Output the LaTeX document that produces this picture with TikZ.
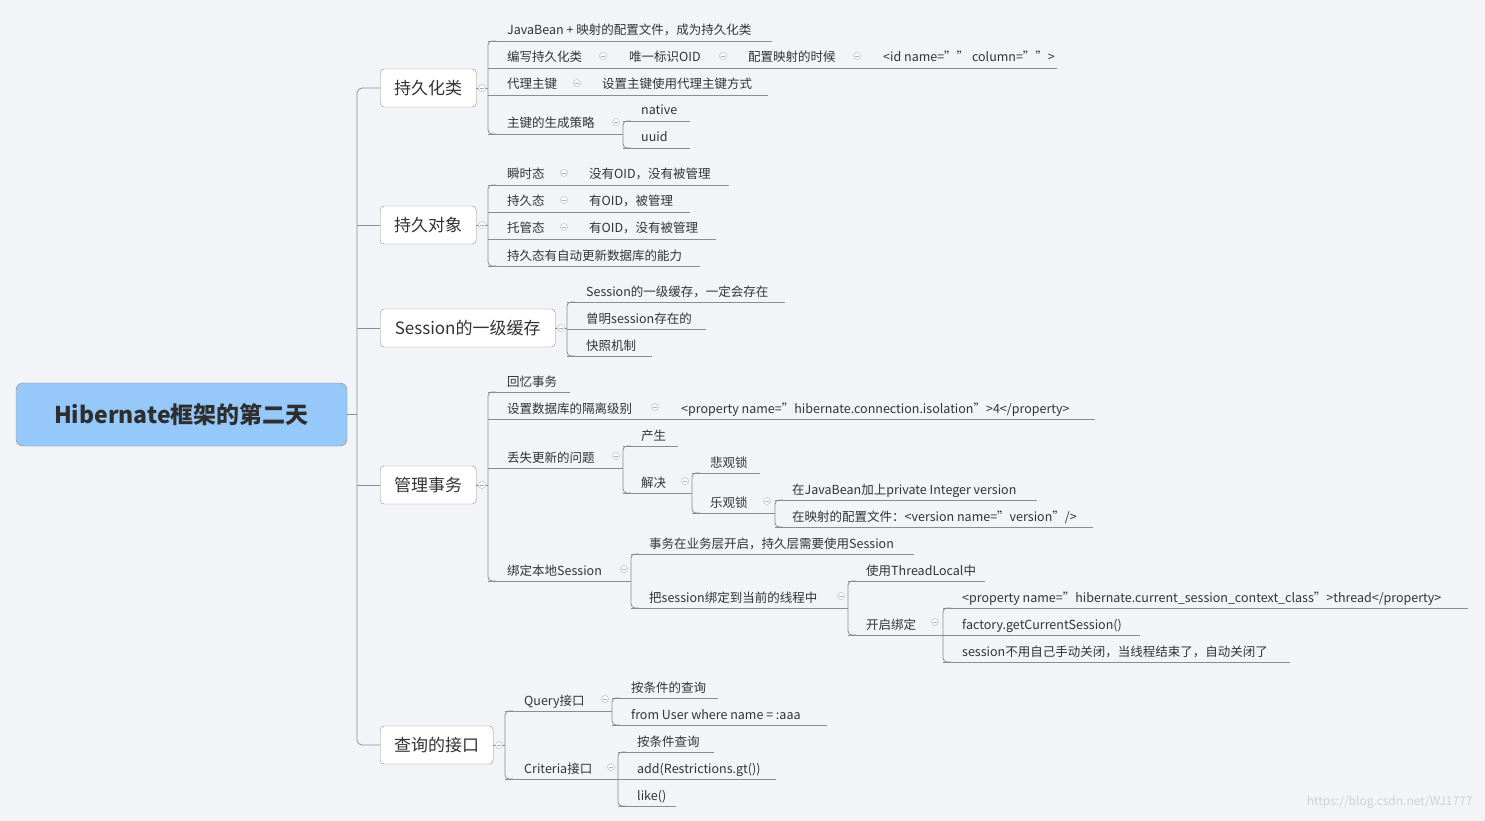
\documentclass[tikz,border=0pt]{standalone}
\usepackage{fontspec}
\setmainfont{Noto Sans CJK SC}
\definecolor{bgcol}{HTML}{F3F4F8}
\definecolor{rootcol}{HTML}{96C9FA}
\definecolor{txtcol}{HTML}{333333}
\definecolor{linecol}{HTML}{8C8C8C}
% leaf: name, line start, text x, line y, line end, text
\newcommand\leaf[6]{%
  \node[leaftext] (#1) at (#3,#4-6) {#6};
  \draw[branch] (#2,#4) -- (#5,#4);}
% vbar: x, top y, bottom y
\newcommand\vbar[3]{\draw[branch, rounded corners=4] (#1+8,#2) -- (#1,#2) -- (#1,#3) -- (#1+8,#3);}
\newcommand\fold[2]{\node[foldmark] at (#1,#2) {};\draw[linecol!70, line width=.5pt] (#1-2,#2) -- (#1+2,#2);}
\begin{document}
\begin{tikzpicture}
      [x=1pt, y=-1pt,
        branch/.style={draw=linecol, line width=.8pt},
        leaftext/.style={anchor=base west, inner sep=0pt, text=txtcol, font=\fontsize{12.5}{14}\selectfont},
        topic/.style={draw=linecol, rounded corners=4pt, fill=white, text=txtcol,
          font=\fontsize{17}{20}\selectfont, anchor=west, minimum height=38pt, inner xsep=12pt},
        foldmark/.style={circle, draw=linecol!60, fill=white, line width=.5pt, minimum size=7pt, inner sep=0pt}
      ]
      \fill[bgcol] (0,0) rectangle (1485,821);
      \useasboundingbox (0,0) rectangle (1485,821);
      % root and main topics
      \draw[branch, rounded corners=5] (380,88) -- (357,88) -- (357,745) -- (380,745);
      \foreach \yy in {225,328,485} {\draw[branch] (357,\yy) -- (380,\yy);}
      \node[draw=linecol, fill=rootcol, rounded corners=7pt, minimum width=331pt, minimum height=63pt,
        text=txtcol!90!black, font=\fontsize{23}{26}\selectfont\bfseries] (root) at (181.5,414.5) {Hibernate框架的第二天};
      \draw[branch] (root.east) -- (357,414.5);
      \node[topic, minimum width=96pt] (persist) at (380,88) {持久化类};
      \node[topic, minimum width=96pt] (pobject) at (380,225) {持久对象};
      \node[topic, minimum width=175pt] (cache) at (380,328) {Session的一级缓存};
      \node[topic, minimum width=96pt] (trans) at (380,485) {管理事务};
      \node[topic, minimum width=113pt] (query) at (380,745) {查询的接口};
      \draw[branch] (persist.east) -- (488,88);
      \draw[branch] (pobject.east) -- (488,225);
      \draw[branch] (cache.east) -- (567,328);
      \draw[branch] (trans.east) -- (488,485);
      \draw[branch] (query.east) -- (505,745);
      % bars
      \vbar{488}{41}{134}  \vbar{623}{121}{148}
      \vbar{488}{185}{266}
      \vbar{567}{302}{356}
      \vbar{488}{392}{581} \vbar{623}{446}{493} \vbar{692}{473}{513} \vbar{775}{500}{527}
      \vbar{631}{554}{608} \vbar{848}{581}{635} \vbar{943}{608}{662}
      \vbar{505}{711}{779} \vbar{612}{698}{725} \vbar{618}{752}{806}
      % persistent class
      \leaf{javabean}{488}{507}{41}{772}{JavaBean + 映射的配置文件，成为持久化类}
      \leaf{write}{488}{507}{68}{615}{编写持久化类}
      \leaf{oid}{615}{629}{68}{740}{唯一标识OID}
      \leaf{mapping}{740}{748}{68}{870}{配置映射的时候}
      \leaf{idtag}{870}{883}{68}{1057}{<id name="" column="">}
      \leaf{proxykey}{488}{507}{95}{590}{代理主键}
      \leaf{setkey}{590}{602}{95}{768}{设置主键使用代理主键方式}
      \leaf{strategy}{488}{507}{134}{623}{主键的生成策略}
      \leaf{native}{623}{641}{121}{690}{native}
      \leaf{uuid}{623}{641}{148}{690}{uuid}
      % persistent object
      \leaf{transient}{488}{507}{185}{577}{瞬时态}
      \leaf{transdesc}{577}{589}{185}{729}{没有OID，没有被管理}
      \leaf{persistent}{488}{507}{212}{577}{持久态}
      \leaf{persdesc}{577}{589}{212}{690}{有OID，被管理}
      \leaf{detached}{488}{507}{239}{577}{托管态}
      \leaf{detdesc}{577}{589}{239}{716}{有OID，没有被管理}
      \leaf{autoupd}{488}{507}{266}{700}{持久态有自动更新数据库的能力}
      % session cache
      \leaf{exists}{567}{586}{302}{785}{Session的一级缓存，一定会存在}
      \leaf{proof}{567}{586}{329}{706}{曾明session存在的}
      \leaf{snapshot}{567}{586}{356}{652}{快照机制}
      % transactions
      \leaf{recall}{488}{507}{392}{570}{回忆事务}
      \leaf{isolation}{488}{507}{419}{668}{设置数据库的隔离级别}
      \leaf{isoprop}{668}{681}{419}{1095}{<property name="hibernate.connection.isolation">4</property>}
      \leaf{lost}{488}{507}{468}{623}{丢失更新的问题}
      \leaf{cause}{623}{641}{446}{678}{产生}
      \leaf{solve}{623}{641}{493}{692}{解决}
      \leaf{pessim}{692}{710}{473}{760}{悲观锁}
      \leaf{optim}{692}{710}{513}{775}{乐观锁}
      \leaf{version}{775}{792}{500}{1037}{在JavaBean加上private Integer version}
      \leaf{vertag}{775}{792}{527}{1093}{在映射的配置文件：<version name="version"/>}
      \leaf{bind}{488}{507}{581}{631}{绑定本地Session}
      \leaf{service}{631}{649}{554}{914}{事务在业务层开启，持久层需要使用Session}
      \leaf{thread}{631}{649}{608}{848}{把session绑定到当前的线程中}
      \leaf{tlocal}{848}{866}{581}{985}{使用ThreadLocal中}
      \leaf{enable}{848}{866}{635}{943}{开启绑定}
      \leaf{ctxprop}{943}{962}{608}{1468}{<property name="hibernate.current\_session\_context\_class">thread</property>}
      \leaf{factory}{943}{962}{635}{1140}{factory.getCurrentSession()}
      \leaf{autoclose}{943}{962}{662}{1290}{session不用自己手动关闭，当线程结束了，自动关闭了}
      % query interfaces
      \leaf{qiface}{505}{524}{711}{612}{Query接口}
      \leaf{qcond}{612}{631}{698}{718}{按条件的查询}
      \leaf{hql}{612}{631}{725}{827}{from User where name = :aaa}
      \leaf{ciface}{505}{524}{779}{618}{Criteria接口}
      \leaf{ccond}{618}{637}{752}{714}{按条件查询}
      \leaf{restrict}{618}{637}{779}{776}{add(Restrictions.gt())}
      \leaf{like}{618}{637}{806}{676}{like()}
      % fold marks
      \foreach \fx/\fy in {482/88,603/56,723/56,857/56,577/83,616/122,
        482/225,564/173,564/200,564/227,561/328,
        482/485,655/407,616/456,685/481,767/501,624/569,841/596,935/622,
        499/745,605/699,611/767}
        {\fold{\fx}{\fy}}
      \node[anchor=east, text=black!18, font=\fontsize{12}{14}\selectfont] (mark) at (1476,802) {https://blog.csdn.net/WJ1777};
\end{tikzpicture}
\end{document}
